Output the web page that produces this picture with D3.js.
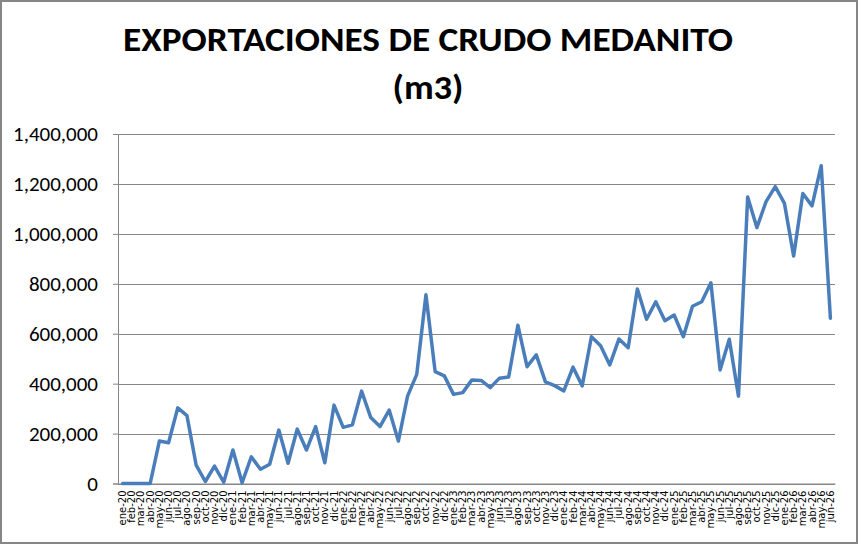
<!DOCTYPE html>
<html>
<head>
<meta charset="utf-8">
<script src="https://cdn.jsdelivr.net/npm/d3@7"></script>
<style>
  body { margin: 0; background: #fff; }
  svg { display: block; }
</style>
</head>
<body>
<div id="wrapper"></div>
<script>
// month labels ene-20 .. jun-26
const months = ["ene", "feb", "mar", "abr", "may", "jun", "jul", "ago", "sep", "oct", "nov", "dic"]
const years = ["20", "21", "22", "23", "24", "25", "26"]
const labels = []
years.forEach(yr => {
    months.forEach((m, i) => {
        if (yr === "26" && i > 5) return
        labels.push(m + "-" + yr)
    })
})

// m3 exported per month
const values = [
    0, 0, 0, 0, 170000, 163000, 303000, 272000, 74000, 8000, 70000, 5000,
    134000, 3000, 107000, 57000, 77000, 214000, 81000, 218000, 134000, 228000, 83000, 314000,
    225000, 235000, 370000, 264000, 228000, 294000, 170000, 350000, 437000, 756000, 448000, 431000,
    357000, 364000, 415000, 413000, 384000, 422000, 427000, 634000, 468000, 515000, 407000, 392000,
    371000, 466000, 391000, 588000, 552000, 475000, 579000, 544000, 779000, 658000, 728000, 652000,
    675000, 588000, 710000, 728000, 804000, 455000, 578000, 350000, 1148000, 1025000, 1129000, 1189000,
    1122000, 911000, 1162000, 1112000, 1273000, 662000
]

const yTicks = [0, 200000, 400000, 600000, 800000, 1000000, 1200000, 1400000]
const titleLines = ["EXPORTACIONES DE CRUDO MEDANITO", "(m3)"]

const dimension = {
    width: 858,
    height: 544,
    margin: { top: 134, left: 118, right: 23, bottom: 60.5 }
}
dimension.boundedWidth = dimension.width - dimension.margin.left - dimension.margin.right
dimension.boundedHeight = dimension.height - dimension.margin.top - dimension.margin.bottom

const data = labels.map((l, i) => ({ label: l, value: values[i] }))

const wrapper = d3.select("#wrapper")
    .append("svg")
    .attr("width", dimension.width)
    .attr("height", dimension.height)

// outer frame
wrapper.append("rect")
    .attr("x", 1)
    .attr("y", 1)
    .attr("width", dimension.width - 2)
    .attr("height", dimension.height - 2)
    .attr("fill", "#fff")
    .attr("stroke", "#868686")
    .attr("stroke-width", 2)

const xScale = d3.scaleBand()
    .domain(labels)
    .range([0, dimension.boundedWidth])

const yScale = d3.scaleLinear()
    .domain([0, 1400000])
    .range([dimension.boundedHeight, 0])

const bounds = wrapper.append("g")
    .attr("transform", `translate(${dimension.margin.left},${dimension.margin.top})`)

// gridlines
bounds.append("g")
    .selectAll("line")
    .data(yTicks)
    .enter()
    .append("line")
    .attr("x1", 0)
    .attr("x2", dimension.boundedWidth)
    .attr("y1", d => Math.round(yScale(d)) + 0.5)
    .attr("y2", d => Math.round(yScale(d)) + 0.5)
    .attr("stroke", "#868686")
    .attr("stroke-width", 1)

// y axis
const yAxis = d3.axisLeft(yScale)
    .tickValues(yTicks)
    .tickFormat(d3.format(","))
    .tickSize(5)
    .tickPadding(15)

const yAxisG = bounds.append("g").call(yAxis)
yAxisG.select(".domain").attr("stroke", "#868686")
yAxisG.selectAll(".tick line").attr("stroke", "#868686")
yAxisG.selectAll(".tick text")
    .attr("fill", "#000")
    .style("font-family", "Carlito, 'Liberation Sans', Arial, sans-serif")
    .style("font-size", "21px")

// x axis
const xAxis = d3.axisBottom(xScale)
    .tickSize(0)
    .tickPadding(0)

const xAxisG = bounds.append("g")
    .attr("transform", `translate(0,${dimension.boundedHeight})`)
    .call(xAxis)
xAxisG.select(".domain").attr("stroke", "#868686")
xAxisG.selectAll(".tick text")
    .attr("fill", "#000")
    .attr("transform", "rotate(-90)")
    .attr("x", -7)
    .attr("y", 0)
    .attr("dy", "0.35em")
    .style("text-anchor", "end")
    .style("font-family", "'DejaVu Sans', Verdana, sans-serif")
    .style("font-size", "10px")

// series line
const line = d3.line()
    .x(d => xScale(d.label) + xScale.bandwidth() / 2)
    .y(d => yScale(d.value))

bounds.append("path")
    .datum(data)
    .attr("d", line)
    .attr("fill", "none")
    .attr("stroke", "#4a7ebb")
    .attr("stroke-width", 3.5)
    .attr("stroke-linejoin", "round")
    .attr("stroke-linecap", "round")

// title
const title = wrapper.append("g")
    .selectAll("text")
    .data(titleLines)
    .enter()
    .append("text")
    .attr("x", 428)
    .attr("y", (d, i) => 51 + i * 48)
    .attr("text-anchor", "middle")
    .style("font-family", "Carlito, 'Liberation Sans Narrow', 'Liberation Sans', Arial, sans-serif")
    .style("font-weight", "bold")
    .style("font-size", "35px")
    .text(d => d)

title.filter((d, i) => i === 0)
    .attr("textLength", 610)
    .attr("lengthAdjust", "spacingAndGlyphs")
title.filter((d, i) => i === 1)
    .attr("textLength", 71)
    .attr("lengthAdjust", "spacingAndGlyphs")
</script>
</body>
</html>
